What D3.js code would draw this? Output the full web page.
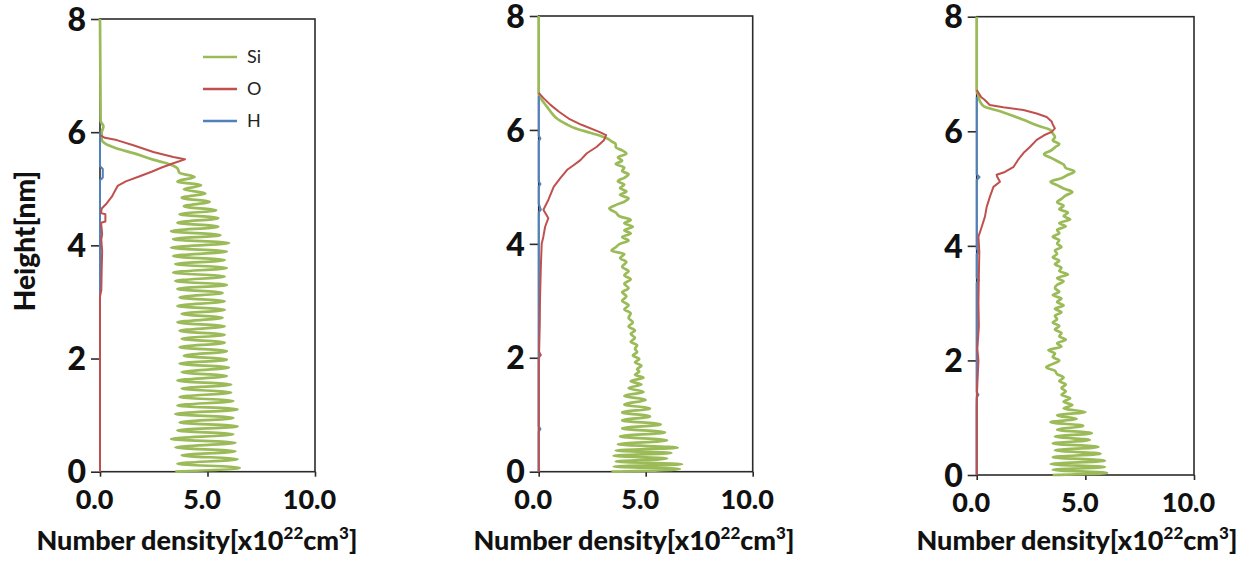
<!DOCTYPE html>
<html>
<head>
<meta charset="utf-8">
<script src="https://cdn.jsdelivr.net/npm/d3@7/dist/d3.min.js"></script>
<style>
  body { margin: 0; background: #fff; }
  text { font-family: Lato, "Open Sans", sans-serif; }
</style>
</head>
<body>
<svg id="chart" width="1260" height="567"></svg>
<script>
// values: [height nm, number density x10^22]
const seriesNames = ['Si', 'O', 'H'];
const seriesColors = ['#9bbb59', '#c0504d', '#4f81bd'];
const yTicks = [0, 2, 4, 6, 8];
const xTicks = [0, 5, 10];

const si1 = [
  [0.0, 3.5], [0.07, 6.5], [0.14, 3.6], [0.22, 6.4], [0.29, 3.8], [0.36, 6.3], [0.43, 3.5],
  [0.51, 6.3], [0.58, 3.3], [0.66, 6.2], [0.73, 3.6], [0.80, 6.4], [0.87, 3.7], [0.95, 6.2],
  [1.02, 3.5], [1.10, 6.4], [1.17, 3.6], [1.25, 6.2], [1.32, 3.7], [1.40, 6.1], [1.47, 3.8],
  [1.54, 6.1], [1.61, 3.6], [1.69, 5.9], [1.76, 3.8], [1.84, 6.0], [1.91, 3.7], [1.98, 5.9],
  [2.05, 3.9], [2.13, 5.9], [2.20, 3.7], [2.28, 5.8], [2.35, 3.8], [2.42, 5.8], [2.49, 3.7],
  [2.57, 5.8], [2.64, 3.6], [2.72, 5.7], [2.79, 3.8], [2.86, 5.8], [2.93, 3.6], [3.01, 5.8],
  [3.08, 3.7], [3.16, 5.7], [3.23, 3.6], [3.30, 5.9], [3.37, 3.5], [3.45, 5.8], [3.52, 3.4],
  [3.60, 5.9], [3.67, 3.5], [3.74, 5.8], [3.81, 3.4], [3.89, 5.9], [3.96, 3.3], [4.04, 6.0],
  [4.11, 3.4], [4.18, 5.6], [4.25, 3.3], [4.33, 5.5], [4.40, 3.6], [4.48, 5.5], [4.55, 3.7],
  [4.62, 5.4], [4.69, 3.9], [4.77, 5.1], [4.84, 3.8], [4.92, 4.9], [4.99, 3.9], [5.06, 4.7],
  [5.13, 3.6], [5.21, 4.4], [5.28, 3.7], [5.36, 3.6], [5.45, 3.1], [5.51, 2.5], [5.63, 1.55],
  [5.71, 0.78], [5.80, 0.23], [5.86, 0.08], [6.0, 0.08], [6.1, 0.16], [6.2, 0.03], [8.0, 0.0]
];
const o1 = [
  [0.0, 0.0], [3.1, 0.0], [3.2, 0.06], [3.6, 0.08], [3.9, 0.1], [4.1, 0.06], [4.2, 0.1],
  [4.4, 0.05], [4.42, 0.25], [4.55, 0.25], [4.57, 0.05], [4.65, 0.08], [4.74, 0.31], [4.86, 0.55],
  [4.95, 0.68], [5.05, 0.82], [5.13, 1.2], [5.22, 1.85], [5.30, 2.4], [5.38, 2.9], [5.45, 3.41],
  [5.52, 3.95], [5.56, 3.41], [5.65, 2.48], [5.77, 1.55], [5.86, 0.78], [5.90, 0.23], [5.95, 0.0]
];
const h1 = [
  [0.0, 0.0], [5.15, 0.0], [5.2, 0.13], [5.35, 0.13], [5.4, 0.0], [6.0, 0.0]
];

const si2 = [
  [0.0, 3.4], [0.05, 6.6], [0.09, 3.5], [0.13, 6.7], [0.18, 3.6], [0.23, 6.0], [0.28, 3.5],
  [0.33, 6.2], [0.37, 3.6], [0.42, 6.5], [0.48, 3.7], [0.55, 6.0], [0.62, 3.8], [0.69, 5.9],
  [0.76, 3.9], [0.83, 5.7], [0.90, 3.9], [0.97, 5.2], [1.04, 3.9], [1.11, 5.2], [1.18, 4.0],
  [1.26, 5.0], [1.33, 4.0], [1.40, 4.9], [1.47, 4.2], [1.53, 4.8], [1.59, 4.3], [1.65, 4.9],
  [1.70, 4.5], [1.76, 4.7], [1.80, 4.6], [1.86, 4.8], [1.92, 4.5], [1.98, 4.7], [2.04, 4.4],
  [2.10, 4.6], [2.16, 4.5], [2.22, 4.6], [2.28, 4.3], [2.35, 4.5], [2.42, 4.3], [2.48, 4.5],
  [2.55, 4.2], [2.62, 4.4], [2.70, 4.2], [2.78, 4.3], [2.85, 4.0], [2.92, 4.2], [3.00, 3.9],
  [3.08, 4.1], [3.15, 3.9], [3.22, 4.2], [3.30, 4.0], [3.38, 4.3], [3.45, 4.0], [3.52, 4.2],
  [3.60, 3.9], [3.68, 4.1], [3.75, 3.8], [3.82, 4.0], [3.88, 3.4], [3.94, 3.6], [4.00, 3.8],
  [4.06, 4.2], [4.12, 3.9], [4.18, 4.3], [4.24, 4.0], [4.30, 4.4], [4.36, 4.0], [4.42, 4.3],
  [4.48, 3.8], [4.55, 3.6], [4.62, 3.3], [4.68, 3.6], [4.74, 4.0], [4.80, 4.2], [4.86, 3.8],
  [4.92, 4.1], [4.98, 3.8], [5.04, 4.0], [5.10, 3.7], [5.16, 4.0], [5.22, 4.2], [5.28, 3.9],
  [5.34, 4.0], [5.40, 3.6], [5.46, 3.9], [5.52, 3.7], [5.58, 4.1], [5.64, 3.9], [5.70, 3.6],
  [5.75, 3.6], [5.80, 3.4], [5.84, 3.25], [5.88, 3.0], [5.95, 2.4], [6.03, 1.7], [6.10, 1.3],
  [6.20, 0.85], [6.30, 0.6], [6.40, 0.4], [6.50, 0.2], [6.58, 0.06], [6.65, 0.0], [8.0, 0.0]
];
const o2 = [
  [0.0, 0.0], [2.0, 0.0], [2.05, 0.1], [2.1, 0.02], [2.6, 0.05], [3.0, 0.06], [3.6, 0.1],
  [4.0, 0.14], [4.13, 0.22], [4.3, 0.3], [4.45, 0.45], [4.6, 0.22], [4.77, 0.45], [5.0, 0.7],
  [5.15, 1.0], [5.3, 1.33], [5.38, 1.63], [5.47, 1.95], [5.59, 2.25], [5.7, 2.7], [5.82, 3.05],
  [5.91, 3.15], [5.97, 2.8], [6.09, 2.0], [6.2, 1.4], [6.32, 0.95], [6.44, 0.55], [6.55, 0.25],
  [6.65, 0.0]
];
const h2 = [
  [0.0, 0.0], [0.7, 0.0], [0.75, 0.08], [0.8, 0.0], [4.55, 0.0], [4.6, 0.1], [4.7, 0.0],
  [5.0, 0.0], [5.05, 0.08], [5.1, 0.0], [5.8, 0.0], [5.85, 0.08], [5.9, 0.0], [6.6, 0.0]
];

const si3 = [
  [0.0, 3.5], [0.04, 6.0], [0.09, 3.5], [0.14, 5.9], [0.19, 3.4], [0.25, 5.9], [0.31, 3.5],
  [0.37, 5.7], [0.43, 3.6], [0.49, 5.6], [0.55, 3.5], [0.61, 5.2], [0.67, 3.6], [0.73, 5.3],
  [0.79, 3.7], [0.86, 4.9], [0.92, 3.4], [0.98, 4.6], [1.04, 3.7], [1.10, 5.0], [1.16, 4.0],
  [1.22, 4.4], [1.28, 4.0], [1.34, 4.3], [1.40, 3.9], [1.46, 4.1], [1.52, 3.9], [1.58, 4.1],
  [1.64, 3.8], [1.70, 4.0], [1.76, 3.7], [1.82, 3.6], [1.88, 3.2], [1.94, 3.5], [2.00, 3.8],
  [2.06, 3.5], [2.12, 3.6], [2.18, 3.3], [2.24, 3.9], [2.30, 3.7], [2.36, 4.1], [2.42, 3.8],
  [2.48, 3.9], [2.54, 3.6], [2.60, 3.8], [2.66, 3.5], [2.72, 3.7], [2.78, 3.6], [2.84, 3.9],
  [2.90, 3.6], [2.96, 4.0], [3.02, 3.7], [3.08, 3.9], [3.14, 3.5], [3.20, 3.8], [3.26, 3.6],
  [3.32, 3.7], [3.38, 4.0], [3.44, 3.7], [3.50, 4.2], [3.56, 3.8], [3.62, 3.9], [3.68, 3.6],
  [3.74, 3.8], [3.80, 3.5], [3.86, 3.7], [3.92, 3.6], [3.98, 3.9], [4.04, 3.7], [4.10, 3.8],
  [4.16, 3.5], [4.22, 3.8], [4.28, 3.7], [4.34, 4.1], [4.40, 3.8], [4.46, 4.3], [4.52, 4.0],
  [4.58, 4.2], [4.64, 3.8], [4.70, 4.0], [4.76, 3.7], [4.82, 3.9], [4.88, 4.1], [4.94, 4.4],
  [5.00, 4.0], [5.06, 3.7], [5.12, 3.4], [5.18, 3.9], [5.24, 4.2], [5.30, 4.5], [5.36, 4.1],
  [5.42, 4.0], [5.48, 3.7], [5.54, 3.4], [5.60, 3.1], [5.66, 3.4], [5.72, 3.6], [5.78, 3.8],
  [5.84, 3.5], [5.90, 3.6], [5.96, 3.5], [6.02, 3.4], [6.10, 2.8], [6.20, 2.15], [6.28, 1.6],
  [6.35, 1.07], [6.43, 0.35], [6.52, 0.15], [6.62, 0.08], [6.72, 0.0], [8.0, 0.0]
];
const o3 = [
  [0.0, 0.0], [1.2, 0.0], [1.5, 0.02], [2.0, 0.08], [2.2, 0.03], [2.6, 0.1], [3.0, 0.08],
  [3.5, 0.1], [3.9, 0.12], [4.16, 0.08], [4.33, 0.23], [4.51, 0.38], [4.68, 0.46], [4.86, 0.61],
  [5.03, 0.77], [5.12, 1.07], [5.20, 0.95], [5.24, 0.92], [5.29, 1.3], [5.38, 1.7], [5.50, 1.9],
  [5.62, 2.15], [5.73, 2.46], [5.85, 2.76], [5.93, 3.1], [5.99, 3.45], [6.05, 3.6], [6.12, 3.5],
  [6.17, 3.45], [6.25, 3.22], [6.31, 2.76], [6.37, 2.15], [6.42, 1.22], [6.46, 0.6], [6.55, 0.36],
  [6.60, 0.2], [6.72, 0.0]
];
const h3 = [
  [0.0, 0.0], [1.35, 0.0], [1.4, 0.08], [1.45, 0.0], [3.35, 0.0], [3.4, 0.1], [3.45, 0.0],
  [3.85, 0.0], [3.9, 0.1], [3.95, 0.0], [5.15, 0.0], [5.2, 0.13], [5.25, 0.0], [6.6, 0.0]
];

const svg = d3.select('#chart');

const panels = [
  { left: 100, right: 315, top: 19, bottom: 471.7, labelX: 197, series: [si1, h1, o1], legend: true },
  { left: 538.7, right: 752.7, top: 16, bottom: 471.7, labelX: 634, series: [si2, h2, o2], legend: false },
  { left: 976.7, right: 1194, top: 16.7, bottom: 475, labelX: 1077, series: [si3, h3, o3], legend: false }
];
// draw order above is Si, H, O
const drawColors = [seriesColors[0], seriesColors[2], seriesColors[1]];
const drawWidths = [2.7, 2, 2];

function drawPanel(p) {
  const g = svg.append('g');
  const x = d3.scaleLinear().domain([0, 10]).range([p.left, p.right]);
  const y = d3.scaleLinear().domain([0, 8]).range([p.bottom, p.top]);

  // box round the plot
  g.append('rect')
    .attr('x', p.left).attr('y', p.top)
    .attr('width', p.right - p.left).attr('height', p.bottom - p.top)
    .attr('fill', 'none').attr('stroke', '#2b2b2b').attr('stroke-width', 1.6);

  const yAxis = g.append('g')
    .attr('transform', `translate(${p.left},0)`)
    .call(d3.axisLeft(y).tickValues(yTicks).tickSize(9).tickPadding(5).tickFormat(d3.format('d')));
  yAxis.select('.domain').remove();
  yAxis.selectAll('line').attr('stroke', '#2b2b2b').attr('stroke-width', 1.6);
  yAxis.selectAll('text')
    .attr('fill', '#111').style('font-size', '32px').style('font-weight', 900)
    .attr('dy', '0.35em');

  const xAxis = g.append('g')
    .attr('transform', `translate(0,${p.bottom})`)
    .call(d3.axisBottom(x).tickValues(xTicks).tickSize(5).tickFormat(d3.format('.1f')));
  xAxis.select('.domain').remove();
  xAxis.selectAll('line').attr('stroke', '#2b2b2b').attr('stroke-width', 1.6);
  xAxis.selectAll('text')
    .attr('fill', '#111').style('font-size', '27px').style('font-weight', 900)
    .attr('y', 37).attr('dy', 0).attr('dx', -6);

  const line = d3.line().x(d => x(d[1])).y(d => y(d[0]));
  p.series.forEach((s, i) => {
    g.append('path')
      .datum(s)
      .attr('d', line.curve(i === 0 ? d3.curveMonotoneY : d3.curveLinear))
      .attr('fill', 'none')
      .attr('stroke', drawColors[i])
      .attr('stroke-width', drawWidths[i])
      .attr('stroke-linejoin', 'round');
  });

  const label = g.append('text')
    .attr('x', p.labelX).attr('y', 550)
    .attr('text-anchor', 'middle')
    .attr('fill', '#111').style('font-size', '27px').style('font-weight', 900);
  label.append('tspan').text('Number density[x10');
  label.append('tspan').attr('dy', -11).style('font-size', '17px').text('22');
  label.append('tspan').attr('dy', 11).text('cm');
  label.append('tspan').attr('dy', -11).style('font-size', '17px').text('3');
  label.append('tspan').attr('dy', 11).text(']');

  if (p.legend) {
    const lg = g.append('g');
    seriesNames.forEach((name, i) => {
      const ly = 57 + i * 32;
      lg.append('line')
        .attr('x1', 203).attr('x2', 237).attr('y1', ly).attr('y2', ly)
        .attr('stroke', seriesColors[i]).attr('stroke-width', 2.7);
      lg.append('text')
        .attr('x', 247).attr('y', ly).attr('dy', '0.35em')
        .attr('fill', '#222').style('font-size', '18px')
        .text(name);
    });
  }
}

panels.forEach(drawPanel);

svg.append('text')
  .attr('transform', 'translate(35,241) rotate(-90)')
  .attr('text-anchor', 'middle')
  .attr('fill', '#111').style('font-size', '28px').style('font-weight', 900)
  .text('Height[nm]');
</script>
</body>
</html>
